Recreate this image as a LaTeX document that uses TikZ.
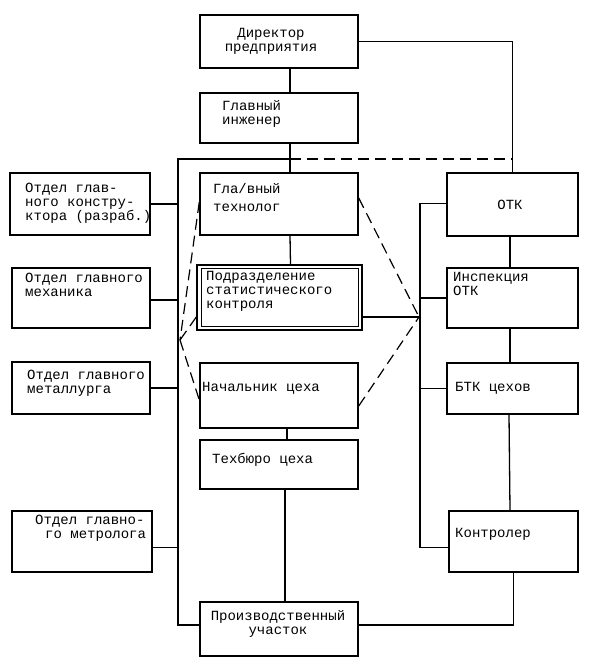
\documentclass[tikz,border=0pt]{standalone}
\usepackage{fontspec}
\setmainfont{Liberation Mono}
\begin{document}
\begin{tikzpicture}[x=1pt,y=-1pt,
  box/.style={draw, line width=1.4pt, rectangle, inner sep=0pt},
  txt/.style={inner sep=0pt, align=left, font=\fontsize{14}{14}\selectfont},
  ln/.style={line width=1.3pt},
  dsh/.style={line width=1.2pt, dash pattern=on 11pt off 6pt}]
\useasboundingbox (0,0) rectangle (592,668);
% center column
\node[box, minimum width=158, minimum height=53] (dir) at (279,41.5) {};
\node[box, minimum width=158, minimum height=50] (eng) at (279,118) {};
\node[box, minimum width=158, minimum height=62] (tech) at (279,204) {};
\node[box, minimum width=165, minimum height=65] (sub) at (279.5,297.5) {};
\node[box, line width=1pt, minimum width=157, minimum height=58] (subin) at (279.5,297.5) {};
\node[box, minimum width=158, minimum height=65] (chief) at (279,395.5) {};
\node[box, minimum width=158, minimum height=49] (tb) at (279,464.5) {};
\node[box, minimum width=158, minimum height=54] (prod) at (279,629) {};
% left column
\node[box, minimum width=140, minimum height=62] (kons) at (80,204) {};
\node[box, minimum width=138, minimum height=60] (mech) at (81,298) {};
\node[box, minimum width=138, minimum height=52] (metal) at (81,388) {};
\node[box, minimum width=140, minimum height=61] (metr) at (82,541.5) {};
% right column
\node[box, minimum width=131, minimum height=63] (otk) at (512.5,204.5) {};
\node[box, minimum width=131, minimum height=60] (insp) at (512.5,298) {};
\node[box, minimum width=131, minimum height=51] (btk) at (512.5,388.5) {};
\node[box, minimum width=129, minimum height=61] (kontr) at (513.5,541.5) {};
% texts
\node[txt, align=center, anchor=north] (tdir) at (271,28) {Директор\\предприятия};
\node[txt, anchor=north west] (teng) at (222,100) {Главный\\инженер};
\node[txt, anchor=north west] (ttech) at (213,183) {Гла/вный\\[4.5pt]технолог};
\node[txt, anchor=north west] (tsub) at (206,271) {Подразделение\\статистического\\контроля};
\node[txt, anchor=north west] (tchief) at (202,382) {Начальник цеха};
\node[txt, anchor=north west] (ttb) at (212,453) {Техбюро цеха};
\node[txt, align=center, anchor=north] (tprod) at (278,610) {Производственный\\участок};
\node[txt, anchor=north west] (tkons) at (25,183) {Отдел глав-\\ного констру-\\ктора (разраб.)};
\node[txt, anchor=north west] (tmech) at (25,273) {Отдел главного\\механика};
\node[txt, anchor=north west] (tmetal) at (27,370) {Отдел главного\\металлурга};
\node[txt, anchor=north west] (tmetr) at (35,515) {Отдел главно-\\\hspace*{10pt}го метролога};
\node[txt] (totk) at (510,205) {ОТК};
\node[txt, anchor=north west] (tinsp) at (453,272) {Инспекция\\ОТК};
\node[txt, anchor=north west] (tbtk) at (455,382) {БТК цехов};
\node[txt, anchor=north west] (tkontr) at (455,528) {Контролер};
% junction coordinates
\coordinate (j1) at (290,159);
\coordinate (lb) at (178,159);
\coordinate (L) at (180,340);
\coordinate (R) at (419,317);
\coordinate (rb) at (420,204);
% center column connectors
\draw[ln] (dir.east) -| (otk.north);
\draw[ln] ([xshift=11pt]dir.south) -- ([xshift=11pt]eng.north);
\draw[ln] ([xshift=11pt]eng.south) -- ([xshift=11pt]tech.north);
\draw[ln] ([xshift=11pt]tech.south) -- ([xshift=11pt]sub.north);
\draw[ln] ([xshift=8pt]chief.south) -- ([xshift=8pt]tb.north);
\draw[ln] ([xshift=6pt]tb.south) -- ([xshift=6pt]prod.north);
% left bus
\draw[ln] (j1) -- (lb) |- ([yshift=4pt]prod.west);
\draw[ln] (kons.east) -- (kons.east -| lb);
\draw[ln] ([yshift=-2pt]mech.east) -- ([yshift=-2pt]mech.east -| lb);
\draw[ln] (metal.east) -- (metal.east -| lb);
\draw[ln] ([yshift=-6pt]metr.east) -- ([yshift=-6pt]metr.east -| lb);
% dashed top line
\draw[dsh] (j1) -- (j1 -| otk.north);
% right bus
\draw[ln] ([yshift=1pt]otk.west) -| (rb) -- (rb |- kontr.west) |- ([yshift=-6pt]kontr.west);
\draw[ln] (insp.west) -- (insp.west -| rb);
\draw[ln] (btk.west) -- (btk.west -| rb);
\draw[ln] ([xshift=-2.5pt]otk.south) -- ([xshift=-2.5pt]insp.north);
\draw[ln] ([xshift=-2.5pt]insp.south) -- ([xshift=-2.5pt]btk.north);
\draw[ln] ([xshift=-3.5pt]btk.south) -- ([xshift=-3.5pt]kontr.north);
\draw[ln] (kontr.south) |- ([yshift=4pt]prod.east);
\draw[ln] ([yshift=-19.5pt]sub.east) -- (R);
% dashed lines
\draw[dsh] ([yshift=6pt]tech.east) -- (R);
\draw[dsh] ([yshift=-10.5pt]chief.east) -- (R);
\draw[dsh] ([yshift=2pt]tech.west) -- (L);
\draw[dsh] ([yshift=-19.5pt]sub.west) -- (L);
\draw[dsh] (L) -- ([yshift=-4.5pt]chief.west);
\end{tikzpicture}
\end{document}
